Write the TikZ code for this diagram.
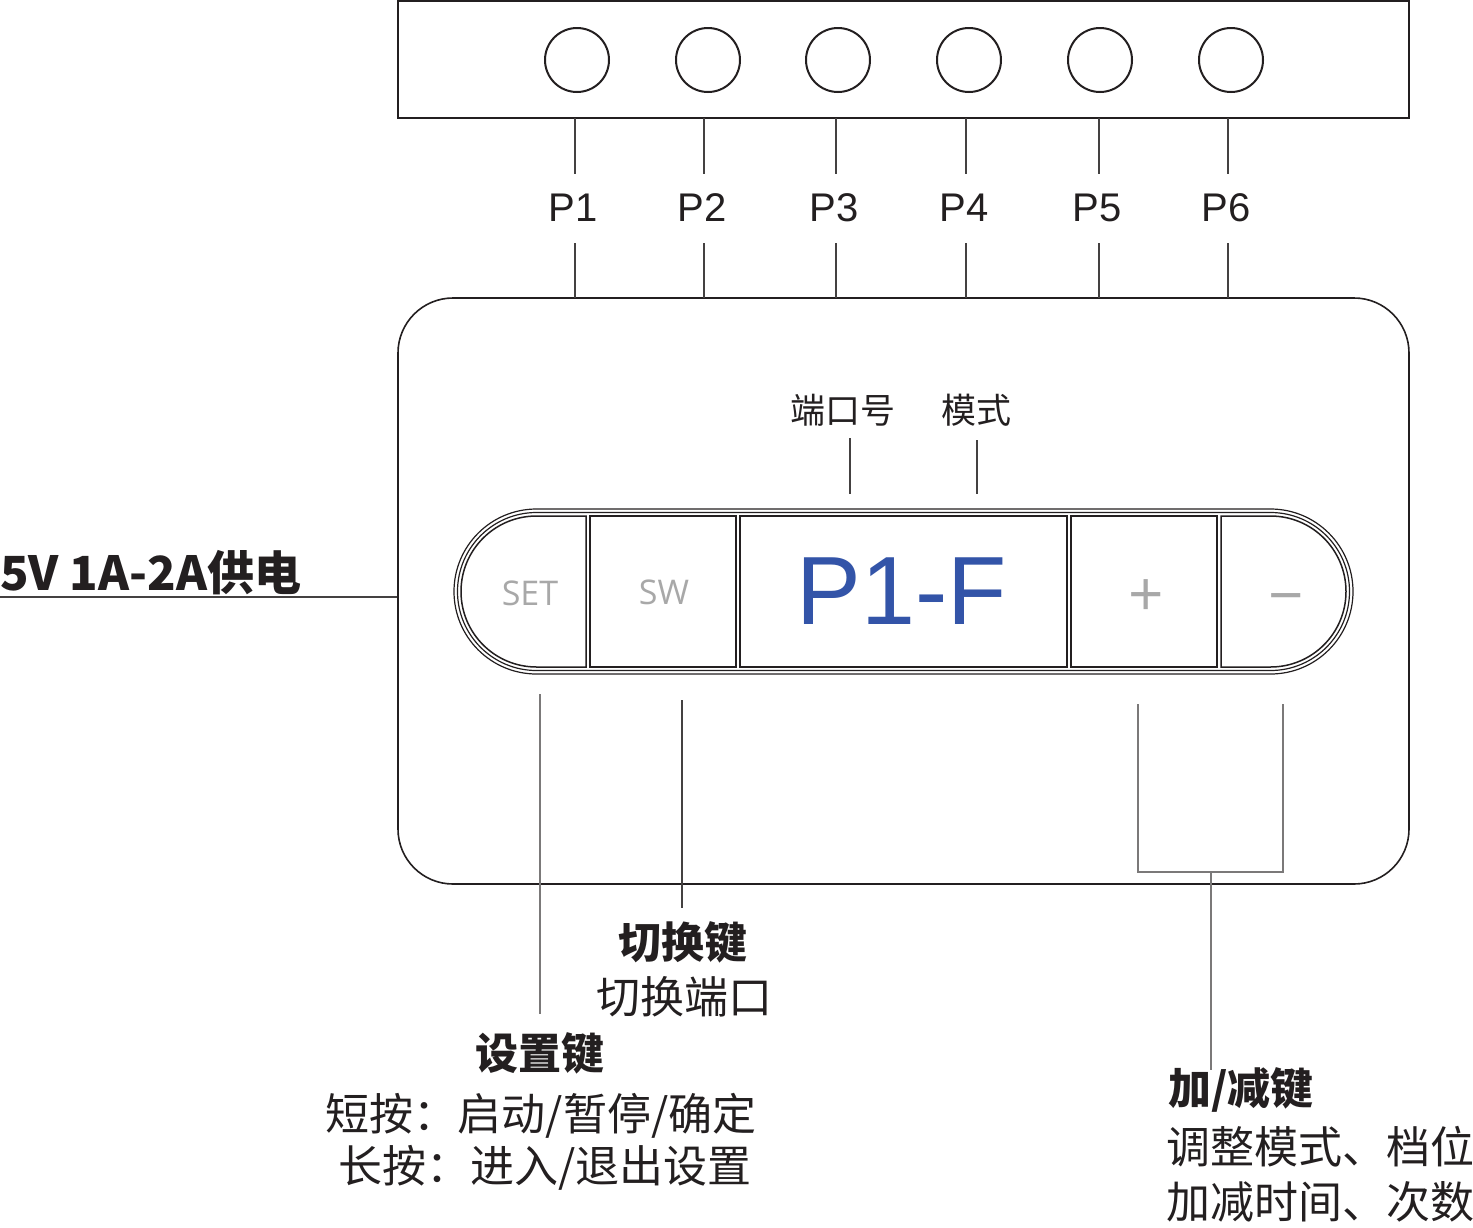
\documentclass[tikz,border=0pt]{standalone}
\usepackage{fontspec}
\newfontfamily\cjk{Noto Sans CJK SC}
\newfontfamily\arialf{Liberation Sans}
\newfontfamily\osans{Open Sans}
\definecolor{lcd}{HTML}{3354A8}
\definecolor{keyg}{HTML}{A8A8A8}
\definecolor{ink}{HTML}{231F20}
\begin{document}
\begin{tikzpicture}[x=1pt,y=-1pt,
  frame/.style={draw=ink,line width=1.6pt},
  lead/.style={draw=ink!85,line width=1.1pt},
  port/.style={circle,draw=ink,line width=2pt,minimum size=64pt,inner sep=0pt},
  plab/.style={font=\arialf\fontsize{40}{40}\selectfont,text=ink,inner sep=0pt},
  keytxt/.style={font=\osans\fontsize{34}{34}\selectfont,text=keyg,inner sep=0pt},
  small/.style={font=\cjk\fontsize{35}{35}\selectfont,text=ink,inner sep=0pt},
  ktitle/.style={font=\cjk\bfseries\fontsize{43}{43}\selectfont,text=ink,inner sep=0pt},
  kdesc/.style={font=\cjk\fontsize{44}{44}\selectfont,text=ink,inner sep=0pt},
  cell/.style={draw=ink,line width=1.5pt,fill=white},
  pill/.style={draw=ink,line width=1.2pt}]
\useasboundingbox (0,0) rectangle (1473,1227);
% top connector box
\node[frame,line width=2pt,minimum width=1011pt,minimum height=117pt,inner sep=0pt] (top) at (903.5,59.5) {};
\foreach \i/\x in {1/577,2/708,3/838,4/969,5/1100,6/1231}
  \node[port] (c\i) at (\x,60) {};
% main body
\node[frame,rounded corners=55pt,minimum width=1011pt,minimum height=586pt,inner sep=0pt] (body) at (903.5,591) {};
% port leads and labels
\foreach \i/\x in {1/575,2/704,3/836,4/966,5/1099,6/1228}{
  \coordinate (a\i) at (\x,118);
  \coordinate (b\i) at (\x,174);
  \coordinate (d\i) at (\x,243);
  \coordinate (e\i) at (\x,298);
  \node[plab] (P\i) at (\x-2,208) {P\i};
  \draw[lead] (a\i) -- (b\i);
  \draw[lead] (d\i) -- (e\i);
}
% key bar outlines
\draw[pill] (536.5,509) -- (1270.5,509) arc(-90:90:82.5) -- (536.5,674) arc(90:270:82.5) -- cycle;
\draw[pill] (536.5,512.5) -- (1270.5,512.5) arc(-90:90:79) -- (536.5,670.5) arc(90:270:79) -- cycle;
% cells
\draw[cell] (586,516) -- (536.5,516) arc(270:90:75.5) -- (586,667) -- cycle;
\draw[cell] (590,516) rectangle (736,667);
\draw[cell] (740,516) rectangle (1067,667);
\draw[cell] (1071,516) rectangle (1217,667);
\draw[cell] (1221,516) -- (1270.5,516) arc(-90:90:75.5) -- (1221,667) -- cycle;
% key texts
\node[keytxt] (set) at (530,593) {SET};
\node[keytxt] (sw) at (664,592) {SW};
\node[font=\arialf\fontsize{97}{97}\selectfont,text=lcd,inner sep=0pt] (disp) at (902,591.5) {P1-F};
\node[keytxt,font=\osans\fontsize{62}{62}\selectfont] (plus) at (1146,598) {+};
\node[keytxt,font=\osans\fontsize{62}{62}\selectfont] (minus) at (1286,606) {−};
% display labels
\node[small] (portno) at (843,410) {端口号};
\node[small] (mode) at (976,410) {模式};
\coordinate (pn1) at (850,438); \coordinate (pn2) at (850,494);
\coordinate (md1) at (977,440); \coordinate (md2) at (977,494);
\draw[lead] (pn1) -- (pn2);
\draw[lead] (md1) -- (md2);
% power
\node[font=\cjk\bfseries\fontsize{47}{47}\selectfont,text=ink,inner sep=0pt,anchor=base west] (pwr) at (0,590) {5V 1A-2A供电};
\coordinate (pwrL) at (0,597);
\draw[lead] (pwrL) -- (body.west |- pwrL);
% SET key leader and text
\coordinate (s1) at (540,694); \coordinate (s2) at (540,1014);
\draw[lead,draw=ink!60] (s1) -- (s2);
\node[ktitle] (settitle) at (540,1053) {设置键};
\node[kdesc] (setd1) at (541,1116) {短按：启动/暂停/确定};
\node[kdesc] (setd2) at (545,1168) {长按：进入/退出设置};
% SW key leader and text
\coordinate (w1) at (682,700); \coordinate (w2) at (682,908);
\draw[lead] (w1) -- (w2);
\node[ktitle] (swtitle) at (683,942) {切换键};
\node[kdesc] (swd) at (684,997) {切换端口};
% plus/minus leaders
\coordinate (m1) at (1138,704); \coordinate (m2) at (1138,872);
\coordinate (n1) at (1283,704); \coordinate (n2) at (1283,872);
\coordinate (j1) at (1211,872); \coordinate (j2) at (1211,1070);
\draw[lead,draw=ink!60] (m1) -- (m2) -- (n2) -- (n1);
\draw[lead,draw=ink!60] (j1) -- (j2);
\node[ktitle,anchor=west] (pmtitle) at (1168,1090) {加/减键};
\node[kdesc,anchor=west] (pmd1) at (1166,1147) {调整模式、档位};
\node[kdesc,anchor=west] (pmd2) at (1166,1202) {加减时间、次数};
\end{tikzpicture}
\end{document}
